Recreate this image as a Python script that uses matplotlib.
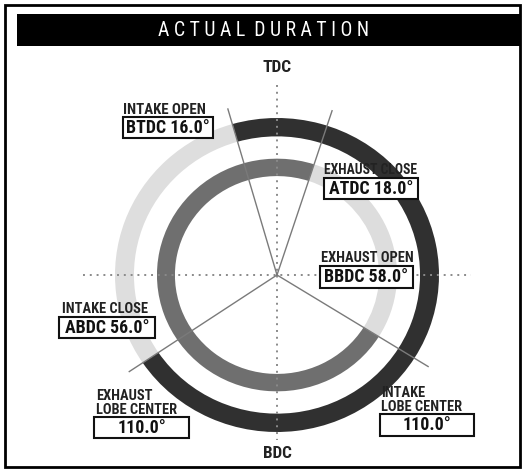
import matplotlib
matplotlib.use('Agg')
import matplotlib.pyplot as plt
from matplotlib.patches import Wedge, Rectangle
from matplotlib.transforms import Affine2D
from matplotlib import font_manager as fm
import numpy as np

# ---- data ----
title = "ACTUAL DURATION"
event_names = ["INTAKE OPEN", "EXHAUST CLOSE", "EXHAUST OPEN", "INTAKE CLOSE"]
event_refs = ["BTDC", "ATDC", "BBDC", "ABDC"]
event_deg = [16.0, 18.0, 58.0, 56.0]
lobe_names = ["EXHAUST\nLOBE CENTER", "INTAKE\nLOBE CENTER"]
lobe_deg = [110.0, 110.0]

# crank positions, clockwise from TDC
io = -event_deg[0]
ec = event_deg[1]
eo = 180.0 - event_deg[2]
ic = 180.0 + event_deg[3]

installed = {f.name for f in fm.fontManager.ttflist}
FAM = 'DejaVu Sans'
for cand in ['Liberation Sans Narrow', 'Roboto Condensed', 'Open Sans Condensed', 'Roboto']:
    if cand in installed:
        FAM = cand
        break
FONT = [FAM, 'DejaVu Sans']

fig = plt.figure(figsize=(5.26, 4.72), dpi=100)
ax = fig.add_axes([0, 0, 1, 1])
ax.set_xlim(0, 526)
ax.set_ylim(472, 0)
ax.axis('off')
renderer = fig.canvas.get_renderer()


def fit_text(x, y, s, target_w, base=12, **kw):
    t = ax.text(x, y, s, fontsize=base, family=FONT, **kw)
    w = t.get_window_extent(renderer).width
    t.set_fontsize(base * target_w / w)
    return t


# frame and title bar
ax.add_patch(Rectangle((5, 5), 515, 462, fill=False, ec='black', lw=2, zorder=1))
ax.add_patch(Rectangle((17, 14), 504, 32, fc='black', ec='none', zorder=1))
spaced = "  ".join(" ".join(list(w)) for w in title.split())
fit_text(264, 31, spaced, 212, color='white', ha='center', va='center', zorder=2)

cx, cy = 277, 275
ring_tf = Affine2D().scale(162, -157).translate(cx, cy) + ax.transData


def th(c):
    return 90.0 - c

# outer ring (intake)
ax.add_patch(Wedge((0, 0), 1.0, th(ic), th(io), width=0.117, fc='#303030', ec='none',
                   transform=ring_tf, zorder=2))
ax.add_patch(Wedge((0, 0), 1.0, th(io), th(ic) + 360, width=0.117, fc='#dedede', ec='none',
                   transform=ring_tf, zorder=2))
# inner ring (exhaust)
ax.add_patch(Wedge((0, 0), 0.741, th(ec), th(eo) + 360, width=0.111, fc='#6f6f6f', ec='none',
                   transform=ring_tf, zorder=2))
ax.add_patch(Wedge((0, 0), 0.741, th(eo), th(ec), width=0.111, fc='#dddddd', ec='none',
                   transform=ring_tf, zorder=2))

# dotted crosshair
ax.plot([-1.2, 1.2], [0, 0], color='#8a8a8a', lw=1.4, ls=(0, (1, 2.5)), transform=ring_tf, zorder=3)
ax.plot([0, 0], [1.21, -1.05], color='#8a8a8a', lw=1.4, ls=(0, (1, 2.5)), transform=ring_tf, zorder=3)

# radial lines
for c in [io, ec, eo, ic]:
    a = np.radians(th(c))
    ax.plot([0, 1.1 * np.cos(a)], [0, 1.1 * np.sin(a)], color='#7a7a7a', lw=1.0,
            transform=ring_tf, zorder=4)

fit_text(277, 68, "TDC", 29, ha='center', va='center', fontweight='bold', color='#222222', zorder=6)
fit_text(277, 453, "BDC", 29, ha='center', va='center', fontweight='bold', color='#222222', zorder=6)

# event labels + boxes (label left x, label y, label width, box x0, x1, y0, y1)
event_layout = [
    (123, 110, 83, 123, 213, 117, 138),
    (324, 170, 93, 324, 418, 178, 199),
    (321, 258, 92, 320, 413, 266, 288),
    (62, 309, 86, 59, 155, 317, 338),
]
val_size = None
for name, ref, deg, (lx, ly, lw_, x0, x1, y0, y1) in zip(event_names, event_refs, event_deg, event_layout):
    fit_text(lx, ly, name, lw_, ha='left', va='center', fontweight='bold', color='#222222', zorder=6)
    ax.add_patch(Rectangle((x0, y0), x1 - x0, y1 - y0, fc='white', ec='#111111', lw=1.5, zorder=5))
    t = ax.text((x0 + x1) / 2, (y0 + y1) / 2 + 0.5, f"{ref} {deg:.1f}°", ha='center', va='center',
                fontweight='bold', family=FONT, color='#111111', zorder=6, fontsize=12)
    if val_size is None:
        w = t.get_window_extent(renderer).width
        val_size = 12 * 83 / w
    t.set_fontsize(val_size)

lobe_layout = [
    (96, 403, 81, 94, 189, 417, 438),
    (381, 400, 81, 380, 474, 414, 436),
]
for name, deg, (lx, ly, lw_, x0, x1, y0, y1) in zip(lobe_names, lobe_deg, lobe_layout):
    fit_text(lx, ly, name, lw_, ha='left', va='center', fontweight='bold', color='#222222',
             linespacing=0.95, zorder=6)
    ax.add_patch(Rectangle((x0, y0), x1 - x0, y1 - y0, fc='white', ec='#111111', lw=1.5, zorder=5))
    ax.text((x0 + x1) / 2, (y0 + y1) / 2 + 0.5, f"{deg:.1f}°", ha='center', va='center',
            fontsize=val_size, fontweight='bold', family=FONT, color='#111111', zorder=6)

fig.savefig('out.png', dpi=100)
